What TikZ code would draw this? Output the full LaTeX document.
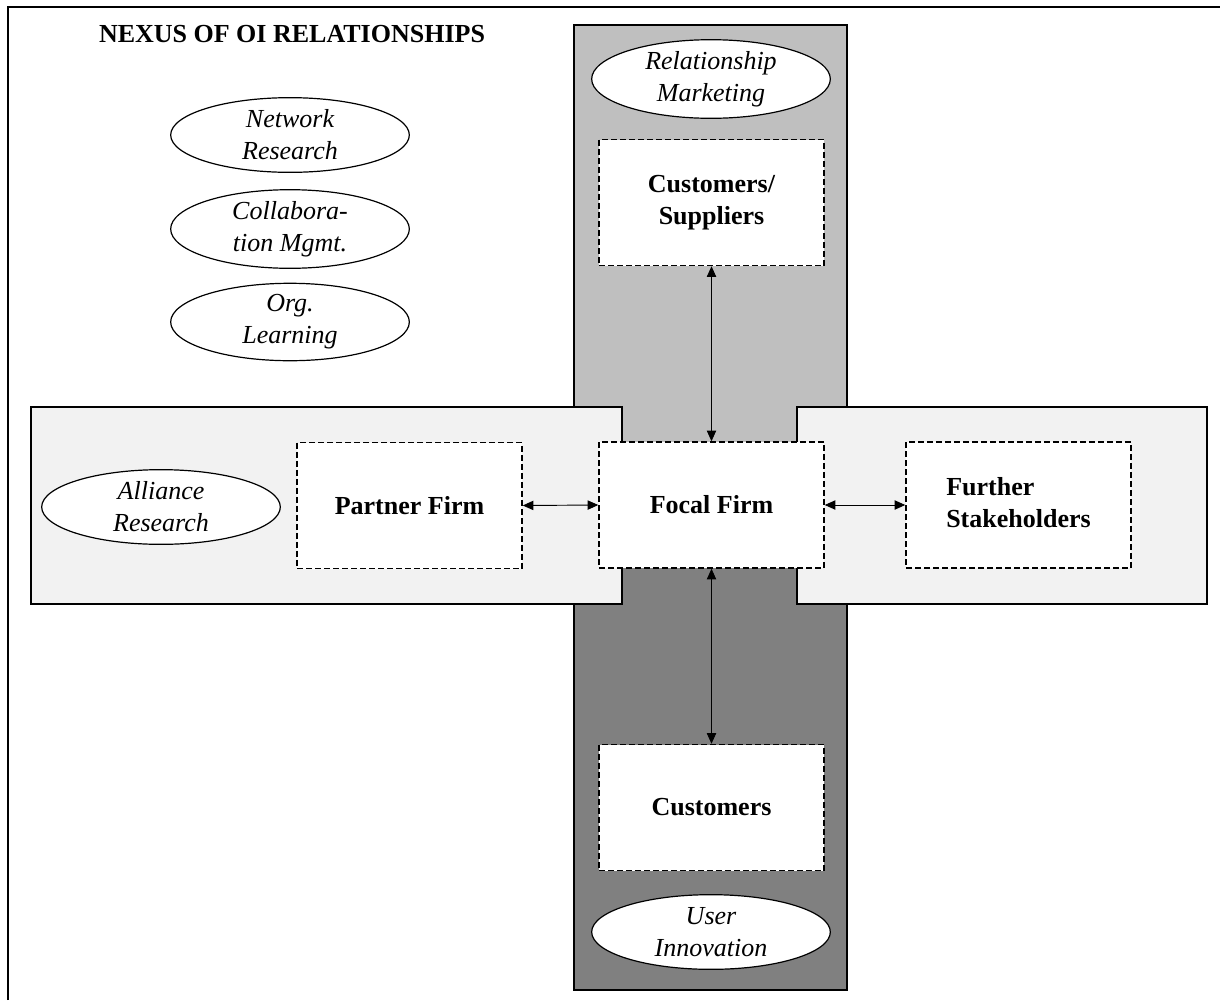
\documentclass[tikz,border=0pt]{standalone}
\usepackage{fontspec}
\setmainfont{Liberation Serif}
\usetikzlibrary{shapes.geometric,arrows.meta}
\begin{document}
\begin{tikzpicture}[x=0.75pt,y=-0.75pt,
  framebox/.style={draw=black, line width=0.9pt},
  fieldell/.style={ellipse, draw, fill=white, line width=0.9pt, minimum width=179pt, minimum height=56pt, inner sep=0pt, align=center, font=\fontsize{19.5}{24}\selectfont\itshape},
  actorbox/.style={rectangle, draw, fill=white, line width=1.1pt, dash pattern=on 4.5pt off 2.25pt, minimum width=168.75pt, minimum height=94.5pt, inner sep=0pt, font=\fontsize{19.5}{24}\selectfont\bfseries},
  biarrow/.style={line width=0.7pt, {Triangle[length=8pt,width=7pt]}-{Triangle[length=8pt,width=7pt]}}]
\useasboundingbox (0,0) rectangle (1220,1000);
% outer frame (top and left edges visible)
\draw[line width=1.8pt] (8,1000) -- (8,7) -- (1220,7);
% vertical bands
\draw[framebox, fill=black!25] (574,25) rectangle (847,505);
\draw[framebox, fill=black!50] (574,505) rectangle (847,990);
% horizontal boxes
\draw[framebox, fill=black!5] (31,407) rectangle (622,604);
\draw[framebox, fill=black!5] (797,407) rectangle (1207,604);
% title
\node[anchor=base, font=\fontsize{19.5}{24}\selectfont\bfseries] (title) at (292,42) {NEXUS OF OI RELATIONSHIPS};
% research field ellipses
\node[fieldell] (net) at (290,135) {Network\\Research};
\node[fieldell] (collab) at (290,229) {Collabora-\\tion Mgmt.};
\node[fieldell] (org) at (290,322) {Org.\\Learning};
\node[fieldell] (rel) at (711,79) {Relationship\\Marketing};
\node[fieldell] (alliance) at (161,507) {Alliance\\Research};
\node[fieldell] (user) at (711,932) {User\\Innovation};
% actor boxes
\node[actorbox] (focal) at (711.5,505) {Focal Firm};
\node[actorbox] (cs) at (711.5,202.5) {\begin{tabular}{@{}c@{}}Customers/\\Suppliers\end{tabular}};
\node[actorbox] (cust) at (711.5,807.5) {Customers};
\node[actorbox] (partner) at (409.5,505.5) {Partner Firm};
\node[actorbox] (further) at (1018.5,505) {\begin{tabular}{@{}l@{}}Further\\Stakeholders\end{tabular}};
% connectors
\draw[biarrow] (focal.north) -- (cs.south);
\draw[biarrow] (focal.south) -- (cust.north);
\draw[biarrow] (partner.east) -- (focal.west);
\draw[biarrow] (focal.east) -- (further.west);
\end{tikzpicture}
\end{document}
